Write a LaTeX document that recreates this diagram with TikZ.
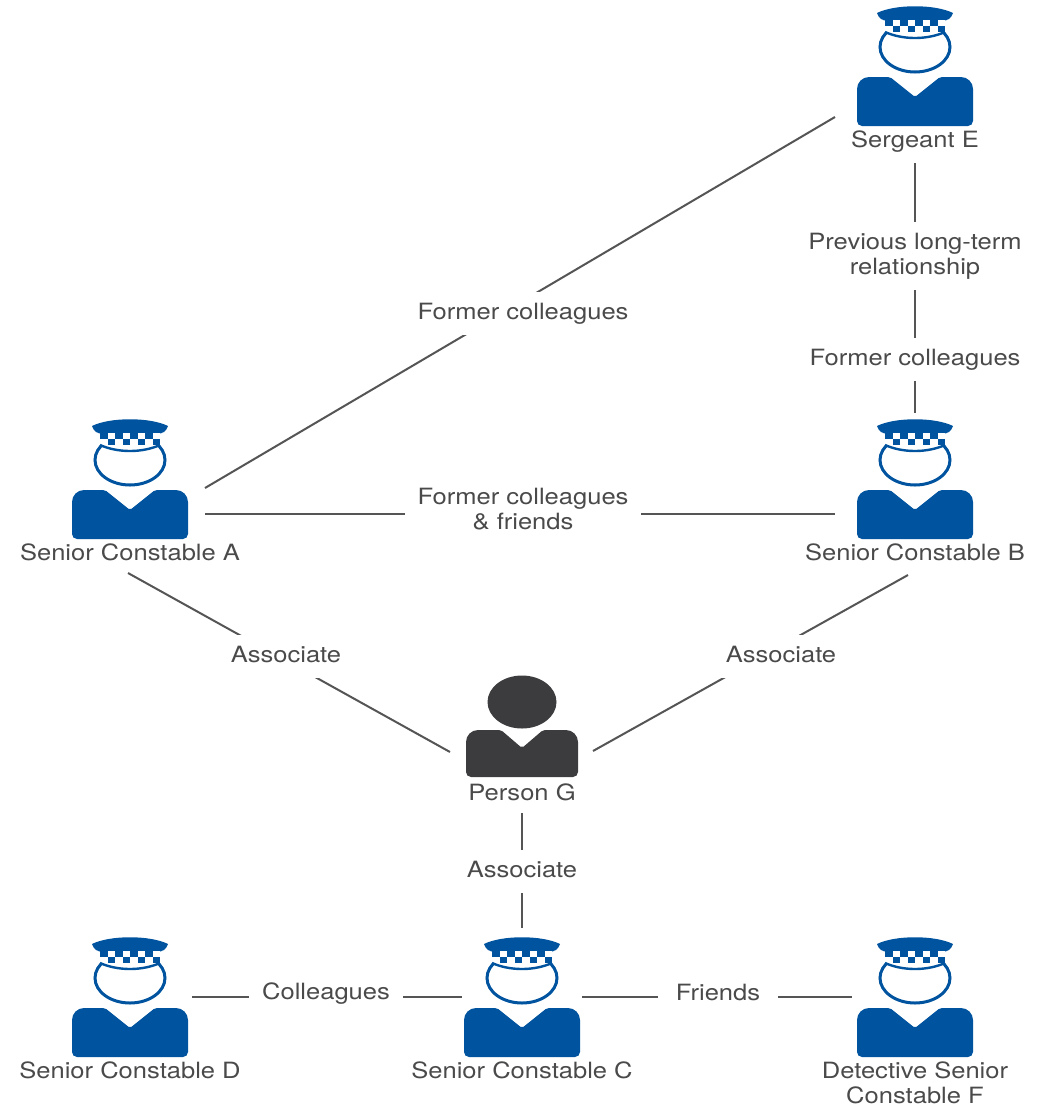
\documentclass[tikz,border=0pt]{standalone}
\usepackage{fontspec}
\setmainfont{TeX Gyre Heros}[FakeStretch=1.14]
\usetikzlibrary{calc}

\definecolor{copblue}{HTML}{00539F}
\definecolor{civgray}{HTML}{3C3C3E}
\definecolor{inkgray}{HTML}{4A4A4A}
\definecolor{linegray}{HTML}{555555}

\tikzset{
    cop/.pic={
        % body
        \fill[copblue] (0,20) [rounded corners=1pt] -- (-25,0) [rounded corners=6pt] -- (-58,0)
            [rounded corners=2.5pt] -- (-58,49) -- (58,49) [rounded corners=6pt] -- (58,0)
            [rounded corners=1pt] -- (25,0) -- cycle;
        % head
        \draw[copblue, line width=1.5pt, fill=white] (0,-30) ellipse [x radius=35, y radius=25];
        % cap
        \fill[copblue] (-38,-64) .. controls (-20,-73) and (20,-73) .. (38,-64) [rounded corners=2pt] -- (37,-60) -- (31,-56) -- (-31,-56) -- (-37,-60) [sharp corners] -- cycle;
        \fill[white] (-30,-57) rectangle (30,-45);
        \foreach \i in {0,2,4,6} \fill[copblue] ({-30+7.5*\i},-57) rectangle ++(7.5,6);
        \foreach \i in {1,3,5,7} \fill[copblue] ({-30+7.5*\i},-51) rectangle ++(7.5,6);
        \draw[copblue, line width=1.2pt] (-30,-45) .. controls (-12,-37) and (12,-37) .. (30,-45);
    },
    civ/.pic={
        \fill[civgray] (0,18) [rounded corners=1pt] -- (-21,0) [rounded corners=6pt] -- (-56,0)
            [rounded corners=2.5pt] -- (-56,47) -- (56,47) [rounded corners=6pt] -- (56,0)
            [rounded corners=1pt] -- (21,0) -- cycle;
        \fill[civgray] (0,-28) ellipse [x radius=34.5, y radius=26.5];
    },
}

\begin{document}
\begin{tikzpicture}[x=0.5pt, y=-0.5pt,
        font=\fontsize{11.2}{12.4}\selectfont,
        who/.style={anchor=base, text=inkgray, align=center, inner sep=0pt},
        link/.style={draw=linegray, line width=1pt},
        tie/.style={anchor=base, text=inkgray, fill=white, align=center,
            inner xsep=6.5pt, inner ysep=5.5pt, text height=8.2pt, text depth=2.35pt},
        tietwo/.style={tie, text height={}, text depth={}}]
    \useasboundingbox (0,0) rectangle (1039,1109);

    % people
    \coordinate (E) at (915,77);
    \coordinate (A) at (130,490);
    \coordinate (B) at (915,490);
    \coordinate (G) at (522,730);
    \coordinate (D) at (130,1008);
    \coordinate (C) at (522,1008);
    \coordinate (F) at (915,1008);

    \foreach \p in {E,A,B,D,C,F}
        \pic at (\p) {cop};
    \pic at (G) {civ};

    % names, placed at the baseline of the last line
    \foreach \p/\t/\dy in {E/Sergeant E/70, A/Senior Constable A/70, B/Senior Constable B/70,
            G/Person G/70, D/Senior Constable D/70, C/Senior Constable C/70,
            F/{Detective Senior\\Constable F}/95}
        \node[who] (\p-t) at ($(\p)+(0,\dy)$) {\t};

    % links
    \draw[link] ($(A)+(75,-2)$) -- ($(E)+(-80,40)$);
    \draw[link] ($(A)+(75,24)$) -- ($(B)+(-80,24)$);
    \draw[link] ($(E)+(0,86)$) -- ($(B)+(0,-77)$);
    \draw[link] ($(A)+(-2,83)$) -- ($(G)+(-72,22)$);
    \draw[link] ($(B)+(-7,85)$) -- ($(G)+(71,21)$);
    \draw[link] ($(G)+(0,83)$) -- ($(C)+(0,-80)$);
    \draw[link] ($(D)+(62,-11.5)$) -- ($(C)+(-60,-11.5)$);
    \draw[link] ($(C)+(60,-11.5)$) -- ($(F)+(-63,-11.5)$);

    \node[tie] (ae) at (523,319) {Former colleagues};
    \node[tietwo] (ab) at (523,529) {Former colleagues\\\& friends};
    \node[tietwo] (eb1) at (915,274) {Previous long-term\\relationship};
    \node[tie] (eb2) at (915,365) {Former colleagues};
    \node[tie] (ag) at (286,662) {Associate};
    \node[tie] (bg) at (781,662) {Associate};
    \node[tie] (gc) at (522,877) {Associate};
    \node[tie] (dc) at (326,999) {Colleagues};
    \node[tie, inner xsep=9pt] (cf) at (718,1000) {Friends};
\end{tikzpicture}
\end{document}
